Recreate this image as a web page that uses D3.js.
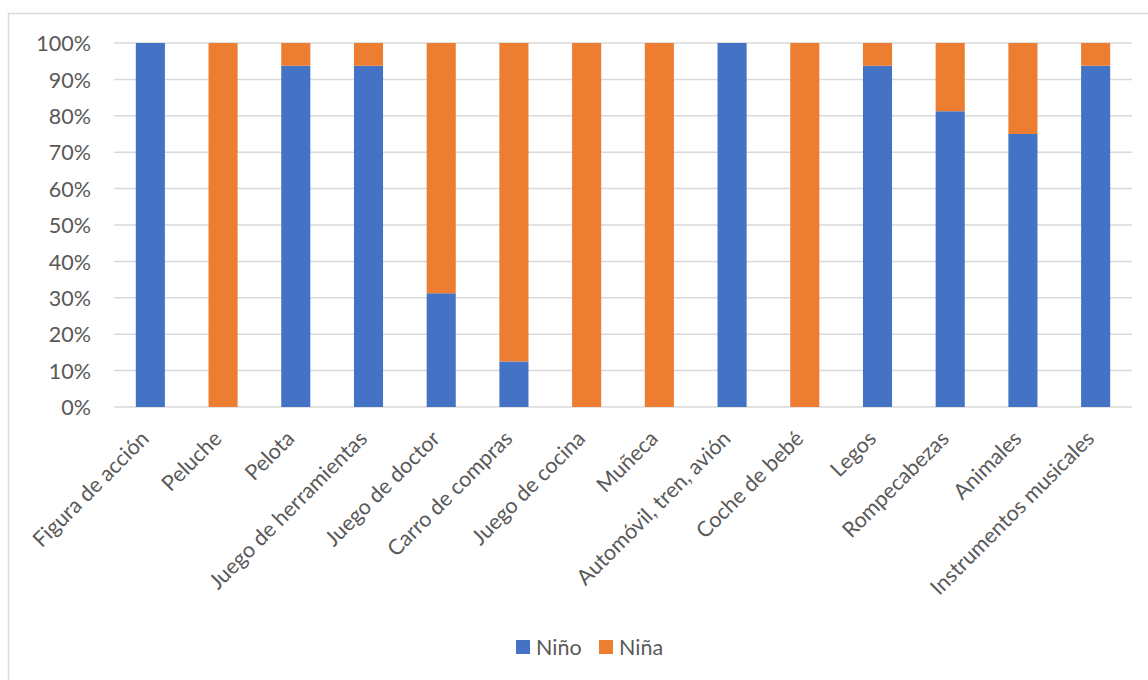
<!DOCTYPE html>
<html><head><meta charset="utf-8">
<script src="https://cdn.jsdelivr.net/npm/d3@7"></script>
<style>body{margin:0;background:#fff}svg{display:block}</style>
</head><body><svg id="c" width="1148" height="680"></svg>
<script>
const categories = ["Figura de acción","Peluche","Pelota","Juego de herramientas","Juego de doctor","Carro de compras","Juego de cocina","Muñeca","Automóvil, tren, avión","Coche de bebé","Legos","Rompecabezas","Animales","Instrumentos musicales"];
const nino = [1, 0, 0.9375, 0.9375, 0.3125, 0.125, 0, 0, 1, 0, 0.9375, 0.8125, 0.75, 0.9375];
const nina = [0, 1, 0.0625, 0.0625, 0.6875, 0.875, 1, 1, 0, 1, 0.0625, 0.1875, 0.25, 0.0625];
const seriesNames = ["Niño","Niña"];
const colors = ["#4472C4","#ED7D31"];
const yTicks = [0,0.1,0.2,0.3,0.4,0.5,0.6,0.7,0.8,0.9,1];

(function(){
const svg = d3.select("#c");
const font = "Lato, 'Open Sans', sans-serif";
const textColor = "#595959";
const fs = 21.5;

svg.append("rect").attr("x",8.5).attr("y",13.5).attr("width",1200).attr("height",700)
  .attr("fill","none").attr("stroke","#d9d9d9").attr("stroke-width",1.5);

const pl = 114, pr = 1132, pt = 43, pb = 407;
const x = d3.scaleBand().domain(categories).range([pl, pr]).paddingInner(0.6).paddingOuter(0.3);
const y = d3.scaleLinear().domain([0,1]).range([pb, pt]);

svg.append("g").selectAll("line").data(yTicks).join("line")
  .attr("x1", pl).attr("x2", pr)
  .attr("y1", d => y(d)).attr("y2", d => y(d))
  .attr("stroke","#d9d9d9").attr("stroke-width",1.5);

const yAxis = d3.axisLeft(y).tickValues(yTicks).tickFormat(d3.format(".0%")).tickSize(0).tickPadding(0);
const ga = svg.append("g").attr("transform",`translate(${pl-23},0)`).call(yAxis);
ga.select(".domain").remove();
ga.selectAll("text").attr("font-family",font).attr("font-size",fs).attr("fill",textColor).attr("dy","0.36em");

const rows = categories.map((c,i)=>({cat:c, "Niño":nino[i], "Niña":nina[i]}));
const stack = d3.stack().keys(seriesNames)(rows);
svg.append("g").selectAll("g").data(stack).join("g")
  .attr("fill",(d,i)=>colors[i])
  .selectAll("rect").data(d=>d).join("rect")
  .attr("x", d => x(d.data.cat))
  .attr("width", x.bandwidth())
  .attr("y", d => y(d[1]))
  .attr("height", d => y(d[0]) - y(d[1]));

const xAxis = d3.axisBottom(x).tickSize(0).tickPadding(0);
const gx = svg.append("g").attr("transform",`translate(0,${pb})`).call(xAxis);
gx.select(".domain").remove();
gx.selectAll("text")
  .attr("font-family",font).attr("font-size",fs).attr("fill",textColor)
  .attr("text-anchor","end")
  .attr("dy",null).attr("y",0)
  .attr("transform","translate(0,33) rotate(-45)");

const legend = svg.append("g");
const lx = [516, 599];
seriesNames.forEach((s,i)=>{
  legend.append("rect").attr("x",lx[i]).attr("y",640).attr("width",14).attr("height",14).attr("fill",colors[i]);
  legend.append("text").attr("x",lx[i]+20).attr("y",647).attr("dy","0.36em")
    .attr("font-family",font).attr("font-size",fs).attr("fill",textColor).text(s);
});
})();
</script></body></html>
